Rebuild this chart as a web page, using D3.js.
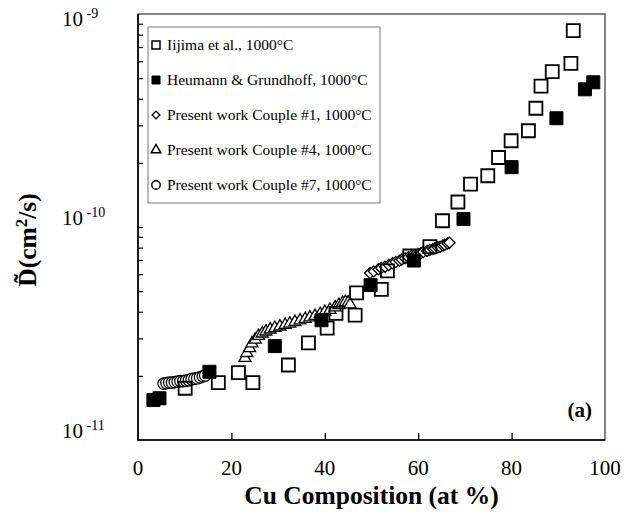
<!DOCTYPE html>
<html>
<head>
<meta charset="utf-8">
<script src="https://cdn.jsdelivr.net/npm/d3@7"></script>
<style>
  body { margin: 0; background: #fff; }
  svg { display: block; }
  text { font-family: "Liberation Serif", "Times New Roman", serif; fill: #000; }
</style>
</head>
<body>
<svg id="chart" width="626" height="519"></svg>
<script>
// Interdiffusion coefficient vs Cu composition at 1000°C
const seriesNames = [
  "Iijima et al., 1000°C",
  "Heumann & Grundhoff, 1000°C",
  "Present work Couple #1, 1000°C",
  "Present work Couple #4, 1000°C",
  "Present work Couple #7, 1000°C"
];

// Iijima et al. (open squares)
const iijimaX = [10.1, 17.2, 21.5, 24.6, 32.2, 36.5, 40.5, 42.4, 46.5, 46.8, 52.1, 53.4, 58.2, 62.5,
                 65.2, 68.5, 71.2, 74.9, 77.2, 79.9, 83.6, 85.2, 86.3, 88.7, 92.7, 93.2];
const iijimaD = [1.75e-11, 1.86e-11, 2.07e-11, 1.86e-11, 2.25e-11, 2.86e-11, 3.35e-11, 3.93e-11, 3.86e-11, 4.91e-11,
                 5.10e-11, 6.22e-11, 7.31e-11, 8.08e-11,
                 1.07e-10, 1.31e-10, 1.59e-10, 1.74e-10, 2.12e-10, 2.54e-10, 2.83e-10, 3.61e-10, 4.59e-10, 5.36e-10,
                 5.87e-10, 8.35e-10];

// Heumann & Grundhoff (filled squares)
const heumannX = [3.3, 4.6, 15.3, 29.3, 39.3, 49.8, 59.1, 69.7, 80.0, 89.6, 95.7, 97.5];
const heumannD = [1.54e-11, 1.57e-11, 2.09e-11, 2.76e-11, 3.65e-11, 5.34e-11, 6.96e-11, 1.09e-10,
                  1.91e-10, 3.24e-10, 4.43e-10, 4.78e-10];

// Present work, Couple #1 (diamonds)
const couple1X = [49.7, 50.5, 51.5, 52.1, 52.9, 53.7, 54.5, 55.2, 56.0, 56.5, 57.2, 57.9, 58.6, 59.3,
                  60.0, 60.6, 61.1, 61.9, 62.5, 63.2, 63.6, 64.2, 64.7, 65.3, 65.7, 66.3, 66.7];
const couple1D = [6.08e-11, 6.19e-11, 6.33e-11, 6.42e-11, 6.51e-11, 6.63e-11, 6.75e-11, 6.85e-11, 6.95e-11,
                  7.04e-11, 7.13e-11, 7.22e-11, 7.31e-11, 7.39e-11, 7.47e-11, 7.55e-11, 7.63e-11, 7.72e-11,
                  7.80e-11, 7.88e-11, 7.94e-11, 8.03e-11, 8.08e-11, 8.19e-11, 8.26e-11, 8.36e-11, 8.44e-11];

// Present work, Couple #4 (triangles)
const couple4X = [22.9, 23.3, 23.9, 24.4, 25.1, 25.8, 26.6, 27.4, 28.3, 29.3, 30.4, 31.5, 32.5, 33.6,
                  34.7, 35.8, 36.8, 37.9, 39.0, 40.0, 41.1, 42.2, 43.0, 43.8, 44.4, 45.0, 45.4];
const couple4D = [2.43e-11, 2.56e-11, 2.70e-11, 2.84e-11, 2.96e-11, 3.08e-11, 3.16e-11, 3.23e-11, 3.30e-11,
                  3.36e-11, 3.41e-11, 3.47e-11, 3.52e-11, 3.58e-11, 3.64e-11, 3.70e-11, 3.76e-11, 3.82e-11,
                  3.90e-11, 3.99e-11, 4.08e-11, 4.19e-11, 4.30e-11, 4.40e-11, 4.44e-11, 4.42e-11, 4.33e-11];

// Present work, Couple #7 (circles)
const couple7X = [5.5, 6.1, 6.7, 7.3, 7.9, 8.5, 9.1, 9.7, 10.3, 10.9, 11.5, 12.1, 12.7, 13.3, 13.9, 14.4];
const couple7D = [1.84e-11, 1.85e-11, 1.86e-11, 1.86e-11, 1.87e-11, 1.88e-11, 1.89e-11, 1.89e-11, 1.90e-11,
                  1.91e-11, 1.93e-11, 1.94e-11, 1.95e-11, 1.97e-11, 1.99e-11, 2.01e-11];

const xTicks = [0, 20, 40, 60, 80, 100];
const yDecades = [1e-11, 1e-10, 1e-9];
const yExponents = ["-11", "-10", "-9"];

const svg = d3.select("#chart");
const m = { left: 138, right: 605, top: 14, bottom: 440 };

const x = d3.scaleLinear().domain([0, 100]).range([m.left, m.right]);
const y = d3.scaleLog().domain([1e-11, 1e-9]).range([m.bottom, m.top]);

// Minor ticks on the log axis (2..9 within each decade)
const minorVals = [];
[1e-11, 1e-10].forEach(dec => { for (let k = 2; k <= 9; k++) minorVals.push(k * dec); });
minorVals.push(1e-10);

// Left axis ticks (drawn inward)
const yAxis = d3.axisRight(y).tickValues(minorVals).tickSize(5).tickFormat("");
svg.append("g").attr("transform", `translate(${m.left},0)`).call(yAxis)
  .call(g => g.select(".domain").remove())
  .call(g => g.selectAll("line").attr("stroke", "#000").attr("stroke-width", 1.2));

// Bottom axis ticks (drawn inward)
const xAxis = d3.axisTop(x).tickValues(xTicks.slice(1, -1)).tickSize(7).tickFormat("");
svg.append("g").attr("transform", `translate(0,${m.bottom})`).call(xAxis)
  .call(g => g.select(".domain").remove())
  .call(g => g.selectAll("line").attr("stroke", "#000").attr("stroke-width", 1.3));

// Plot frame
svg.append("rect")
  .attr("x", m.left).attr("y", m.top)
  .attr("width", m.right - m.left).attr("height", m.bottom - m.top)
  .attr("fill", "none").attr("stroke", "#333").attr("stroke-width", 1.2);
svg.append("path")
  .attr("d", `M${m.left},${m.top}V${m.bottom}H${m.right}`)
  .attr("fill", "none").attr("stroke", "#000").attr("stroke-width", 1.6);

// X tick labels
svg.append("g").selectAll("text").data(xTicks).join("text")
  .attr("x", d => x(d)).attr("y", 475)
  .attr("text-anchor", "middle").attr("font-size", 21)
  .text(d => d);

// Y tick labels: 10 with raised exponent
const yl = svg.append("g").selectAll("text").data(yDecades).join("text")
  .attr("x", 62)
  .attr("y", d => Math.max(y(d) - 2, m.top + 12))
  .attr("font-size", 21);
yl.append("tspan").text("10");
yl.append("tspan").attr("font-size", 14).attr("dy", -8)
  .text((d, i) => "\u00a0" + yExponents[i]);

// Axis titles
svg.append("text")
  .attr("x", (m.left + m.right) / 2).attr("y", 504)
  .attr("text-anchor", "middle").attr("font-size", 25.5).attr("font-weight", "bold")
  .text("Cu Composition (at %)");

svg.append("text")
  .attr("transform", "translate(36,240) rotate(-90)")
  .attr("text-anchor", "middle").attr("font-size", 25.5).attr("font-weight", "bold")
  .html("D\u0303(cm<tspan font-size='17' dy='-9'>2</tspan><tspan dy='9'>/s)</tspan>");

// Marker shapes
const shape = {
  openSquare: d3.symbol(d3.symbolSquare, 169),
  filledSquare: d3.symbol(d3.symbolSquare, 169),
  diamond: d3.symbol(d3.symbolSquare, 62),
  triangle: d3.symbol(d3.symbolTriangle, 62),
  circle: d3.symbol(d3.symbolCircle, 105)
};

function drawSeries(xs, ds, path, fill, sw, rot) {
  svg.append("g").selectAll("path").data(xs.map((v, i) => [v, ds[i]])).join("path")
    .attr("d", path)
    .attr("transform", d => `translate(${x(d[0])},${y(d[1])})` + (rot ? ` rotate(${rot})` : ""))
    .attr("fill", fill).attr("stroke", "#000").attr("stroke-width", sw);
}

drawSeries(couple7X, couple7D, shape.circle, "#fff", 1.2, 0);
drawSeries(couple4X, couple4D, shape.triangle, "#fff", 1.3, 0);
drawSeries(couple1X, couple1D, shape.diamond, "#fff", 1.3, 45);
drawSeries(iijimaX, iijimaD, shape.openSquare, "none", 1.8, 0);
drawSeries(heumannX, heumannD, shape.filledSquare, "#000", 1.0, 0);

// Legend
const lg = svg.append("g");
lg.append("rect").attr("x", 148).attr("y", 27).attr("width", 232).attr("height", 176)
  .attr("fill", "#fff").attr("stroke", "#777").attr("stroke-width", 1);

const legendShapes = [
  { p: d3.symbol(d3.symbolSquare, 64), fill: "none", sw: 1.5, rot: 0 },
  { p: d3.symbol(d3.symbolSquare, 64), fill: "#000", sw: 1, rot: 0 },
  { p: d3.symbol(d3.symbolSquare, 30), fill: "#fff", sw: 1.4, rot: 45 },
  { p: d3.symbol(d3.symbolTriangle, 40), fill: "#fff", sw: 1.4, rot: 0 },
  { p: d3.symbol(d3.symbolCircle, 56), fill: "#fff", sw: 1.4, rot: 0 }
];
seriesNames.forEach((name, i) => {
  const cy = 45 + i * 35;
  const s = legendShapes[i];
  lg.append("path").attr("d", s.p)
    .attr("transform", `translate(156,${cy})` + (s.rot ? ` rotate(${s.rot})` : ""))
    .attr("fill", s.fill).attr("stroke", "#000").attr("stroke-width", s.sw);
  lg.append("text").attr("x", 167).attr("y", cy + 5).attr("font-size", 15.5).text(name);
});

// Panel label
svg.append("text").attr("x", 592).attr("y", 417)
  .attr("text-anchor", "end").attr("font-size", 21).attr("font-weight", "bold")
  .text("(a)");
</script>
</body>
</html>
